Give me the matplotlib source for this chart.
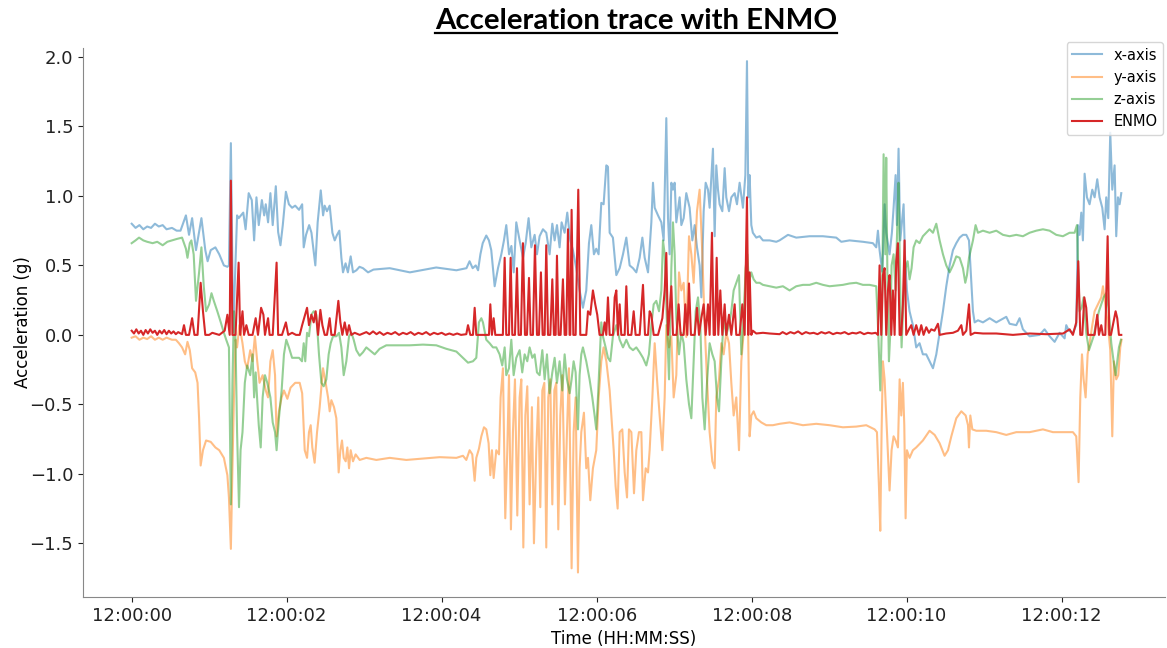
import matplotlib
matplotlib.use('Agg')
import matplotlib.pyplot as plt
import matplotlib.dates as mdates
import numpy as np

# (seconds after 12:00:00, acceleration in g)
x_axis = [
    (0.00, 0.80), (0.05, 0.77), (0.10, 0.79), (0.15, 0.76), (0.20, 0.78), (0.25, 0.77), (0.30, 0.80),
    (0.35, 0.78), (0.40, 0.79), (0.45, 0.76), (0.52, 0.77), (0.58, 0.75), (0.63, 0.75), (0.70, 0.86),
    (0.74, 0.72), (0.78, 0.84), (0.83, 0.61), (0.90, 0.84), (0.95, 0.61), (0.98, 0.53), (1.02, 0.61),
    (1.08, 0.63), (1.13, 0.58), (1.19, 0.50), (1.235, 0.49), (1.255, 0.50), (1.28, 1.38), (1.31, 0.02),
    (1.36, 0.86), (1.38, 0.84), (1.44, 0.88), (1.47, 0.76), (1.51, 1.02), (1.55, 0.97), (1.58, 0.68),
    (1.61, 0.99), (1.64, 0.79), (1.68, 0.97), (1.71, 0.86), (1.73, 0.94), (1.76, 0.81), (1.79, 1.02),
    (1.82, 0.79), (1.86, 1.07), (1.89, 0.74), (1.92, 0.645), (1.95, 0.79), (1.99, 1.03), (2.03, 0.94),
    (2.07, 0.915), (2.11, 0.93), (2.16, 0.90), (2.20, 0.94), (2.22, 0.63), (2.25, 0.72), (2.29, 0.79),
    (2.32, 0.735), (2.37, 0.50), (2.40, 0.81), (2.44, 1.04), (2.47, 0.86), (2.49, 0.93), (2.52, 0.89),
    (2.555, 0.93), (2.59, 0.735), (2.62, 0.68), (2.65, 0.72), (2.68, 0.75), (2.706, 0.555), (2.727, 0.45),
    (2.76, 0.515), (2.79, 0.45), (2.826, 0.565), (2.856, 0.45), (2.90, 0.465), (2.94, 0.49), (2.985, 0.48),
    (3.05, 0.45), (3.12, 0.47), (3.33, 0.48), (3.59, 0.45), (3.93, 0.485), (4.19, 0.465), (4.32, 0.48),
    (4.36, 0.53), (4.40, 0.48), (4.44, 0.50), (4.47, 0.465), (4.50, 0.58), (4.53, 0.66), (4.576, 0.715),
    (4.61, 0.68), (4.64, 0.61), (4.684, 0.35), (4.727, 0.48), (4.77, 0.58), (4.804, 0.68), (4.834, 0.79),
    (4.87, 0.58), (4.90, 0.64), (4.93, 0.45), (4.963, 0.81), (5.006, 0.68), (5.05, 0.555), (5.084, 0.66),
    (5.122, 0.84), (5.157, 0.63), (5.20, 0.72), (5.23, 0.58), (5.264, 0.71), (5.307, 0.76), (5.35, 0.735),
    (5.393, 0.58), (5.428, 0.80), (5.458, 0.68), (5.488, 0.79), (5.522, 0.63), (5.548, 0.81), (5.587, 0.735),
    (5.621, 0.88), (5.66, 0.68), (5.694, 0.61), (5.737, 0.48), (5.78, 0.32), (5.823, 0.195), (5.866, 0.32),
    (5.901, 0.66), (5.931, 0.79), (5.965, 0.58), (5.995, 0.62), (6.025, 0.58), (6.06, 0.95), (6.09, 0.94),
    (6.125, 1.22), (6.146, 1.21), (6.168, 0.735), (6.21, 0.70), (6.254, 0.43), (6.297, 0.48), (6.34, 0.58),
    (6.383, 0.70), (6.426, 0.50), (6.469, 0.48), (6.512, 0.45), (6.555, 0.555), (6.59, 0.70), (6.62, 0.555),
    (6.663, 0.45), (6.706, 0.81), (6.727, 1.095), (6.749, 0.915), (6.792, 0.86), (6.835, 0.81), (6.865, 0.68),
    (6.899, 1.56), (6.921, 0.84), (6.942, 0.58), (6.964, 1.095), (6.985, 1.045), (7.007, 1.095), (7.028, 0.81),
    (7.071, 0.99), (7.093, 0.79), (7.123, 0.84), (7.157, 1.02), (7.20, 0.915), (7.235, 0.68), (7.265, 0.79),
    (7.295, 0.63), (7.329, 0.50), (7.351, 0.27), (7.381, 0.89), (7.407, 1.095), (7.437, 1.045), (7.458, 0.915),
    (7.501, 1.34), (7.523, 0.71), (7.544, 1.22), (7.566, 1.045), (7.587, 0.94), (7.622, 0.89), (7.652, 1.20),
    (7.673, 0.99), (7.708, 0.89), (7.738, 0.99), (7.781, 1.02), (7.811, 0.94), (7.845, 1.095), (7.888, 0.915),
    (7.919, 1.15), (7.94, 1.97), (7.957, 0.99), (7.974, 1.15), (7.996, 0.79), (8.017, 0.735), (8.06, 0.70),
    (8.103, 0.71), (8.146, 0.68), (8.232, 0.68), (8.318, 0.67), (8.36, 0.68), (8.469, 0.72), (8.576, 0.70),
    (8.748, 0.71), (8.92, 0.71), (9.092, 0.70), (9.157, 0.67), (9.264, 0.68), (9.436, 0.67), (9.565, 0.66),
    (9.608, 0.63), (9.63, 0.75), (9.651, 0.61), (9.686, 0.455), (9.716, 0.94), (9.737, 0.735), (9.78, 0.58),
    (9.81, 0.735), (9.832, 0.915), (9.858, 1.15), (9.875, 0.79), (9.896, 1.34), (9.918, 0.68), (9.94, 0.81),
    (9.961, 0.94), (9.978, 0.58), (10.004, 0.32), (10.038, 0.17), (10.081, 0.07), (10.124, -0.09),
    (10.167, -0.06), (10.21, -0.14), (10.253, -0.14), (10.296, -0.19), (10.34, -0.24), (10.383, -0.14),
    (10.426, 0.015), (10.469, 0.17), (10.512, 0.35), (10.555, 0.50), (10.598, 0.61), (10.641, 0.66),
    (10.684, 0.70), (10.727, 0.72), (10.77, 0.72), (10.805, 0.68), (10.835, 0.375), (10.856, 0.17),
    (10.878, 0.09), (10.921, 0.105), (10.985, 0.09), (11.071, 0.12), (11.157, 0.09), (11.286, 0.13),
    (11.329, 0.08), (11.415, 0.07), (11.458, 0.12), (11.501, 0.04), (11.587, -0.01), (11.716, 0.0),
    (11.78, 0.04), (11.845, -0.01), (11.91, -0.05), (11.974, 0.015), (12.039, -0.025), (12.06, 0.07),
    (12.094, 0.03), (12.146, 0.015), (12.189, 0.07), (12.211, 0.79), (12.232, 0.72), (12.254, 0.88),
    (12.275, 0.68), (12.297, 1.16), (12.327, 0.99), (12.361, 0.94), (12.396, 1.045), (12.426, 0.99),
    (12.46, 1.12), (12.49, 0.99), (12.525, 0.915), (12.555, 0.76), (12.576, 0.99), (12.602, 0.84),
    (12.628, 1.455), (12.654, 1.045), (12.684, 1.22), (12.705, 0.71), (12.727, 0.99), (12.749, 0.94),
    (12.77, 1.02),
]

y_axis = [
    (0.00, -0.02), (0.05, -0.01), (0.10, -0.035), (0.15, -0.02), (0.20, -0.03), (0.25, -0.01), (0.30, -0.035),
    (0.35, -0.02), (0.40, -0.035), (0.45, -0.02), (0.52, -0.035), (0.57, -0.035), (0.61, -0.06), (0.65, -0.09),
    (0.69, -0.14), (0.72, -0.05), (0.75, -0.11), (0.78, -0.24), (0.82, -0.27), (0.85, -0.345), (0.87, -0.60),
    (0.89, -0.94), (0.92, -0.83), (0.96, -0.76), (1.02, -0.77), (1.08, -0.81), (1.13, -0.83), (1.19, -0.885),
    (1.235, -1.01), (1.255, -1.17), (1.28, -1.54), (1.30, -0.96), (1.32, -0.45), (1.34, -0.035), (1.36, -0.09),
    (1.39, 0.07), (1.43, -0.06), (1.46, -0.19), (1.49, -0.24), (1.53, -0.11), (1.56, -0.19), (1.59, -0.01),
    (1.62, -0.19), (1.65, -0.345), (1.69, -0.29), (1.73, -0.40), (1.76, -0.45), (1.79, -0.19), (1.82, -0.11),
    (1.85, -0.29), (1.87, -0.73), (1.90, -0.55), (1.935, -0.45), (1.965, -0.40), (2.01, -0.46), (2.05, -0.38),
    (2.11, -0.345), (2.168, -0.345), (2.20, -0.42), (2.233, -0.83), (2.263, -0.885), (2.288, -0.70),
    (2.31, -0.65), (2.331, -0.81), (2.361, -0.92), (2.392, -0.70), (2.426, -0.52), (2.469, -0.24),
    (2.503, -0.345), (2.534, -0.45), (2.555, -0.55), (2.577, -0.47), (2.611, -0.52), (2.641, -0.60),
    (2.671, -0.99), (2.693, -0.83), (2.714, -0.76), (2.736, -0.885), (2.762, -0.91), (2.783, -0.81),
    (2.805, -0.96), (2.826, -0.83), (2.856, -0.91), (2.89, -0.86), (2.942, -0.90), (3.028, -0.885),
    (3.157, -0.90), (3.33, -0.885), (3.544, -0.90), (3.76, -0.89), (3.975, -0.88), (4.19, -0.885),
    (4.275, -0.87), (4.318, -0.90), (4.361, -0.83), (4.395, -0.86), (4.426, -1.05), (4.447, -0.885),
    (4.481, -0.82), (4.512, -0.73), (4.546, -0.665), (4.576, -0.68), (4.606, -0.78), (4.628, -1.01),
    (4.649, -0.83), (4.671, -1.03), (4.705, -0.83), (4.74, -0.86), (4.761, -0.45), (4.791, -0.24),
    (4.821, -1.32), (4.847, -0.83), (4.869, -0.29), (4.894, -1.40), (4.92, -0.70), (4.946, -0.32),
    (4.976, -1.30), (5.006, -0.45), (5.028, -0.32), (5.054, -1.53), (5.08, -0.58), (5.105, -0.37),
    (5.135, -1.22), (5.165, -0.52), (5.191, -1.50), (5.221, -0.83), (5.247, -0.45), (5.273, -1.24),
    (5.299, -0.40), (5.325, -0.345), (5.35, -1.53), (5.376, -0.45), (5.402, -0.32), (5.428, -1.22),
    (5.454, -0.40), (5.479, -0.345), (5.505, -1.40), (5.531, -0.58), (5.557, -0.29), (5.591, -1.22),
    (5.617, -0.70), (5.643, -0.24), (5.677, -1.68), (5.703, -0.70), (5.729, -0.45), (5.759, -1.71),
    (5.78, -0.96), (5.802, -0.70), (5.836, -0.56), (5.866, -0.96), (5.888, -0.885), (5.918, -1.19),
    (5.952, -0.96), (5.995, -0.83), (6.026, -0.45), (6.06, -0.19), (6.09, -0.09), (6.125, -0.19),
    (6.168, -0.40), (6.19, -0.58), (6.22, -0.83), (6.245, -1.09), (6.271, -1.25), (6.297, -0.70),
    (6.331, -0.68), (6.362, -0.99), (6.392, -1.17), (6.417, -0.68), (6.448, -0.70), (6.482, -1.14),
    (6.512, -0.83), (6.546, -0.70), (6.577, -0.70), (6.598, -1.19), (6.633, -0.96), (6.663, -0.99),
    (6.684, -0.83), (6.719, -0.45), (6.749, -0.06), (6.779, -0.32), (6.813, -0.58), (6.848, -0.83),
    (6.878, -0.45), (6.899, 0.07), (6.934, -0.09), (6.964, -0.01), (6.994, -0.45), (7.028, -0.29),
    (7.063, 0.45), (7.093, 0.32), (7.123, 0.375), (7.157, -0.015), (7.192, 0.71), (7.222, 0.58),
    (7.252, 0.375), (7.295, 0.89), (7.329, 1.045), (7.364, 0.58), (7.394, 0.07), (7.424, -0.32),
    (7.458, -0.70), (7.493, -0.91), (7.523, -0.96), (7.544, -0.45), (7.579, -0.32), (7.609, -0.06),
    (7.639, -0.14), (7.673, 0.015), (7.708, -0.06), (7.738, -0.345), (7.768, -0.58), (7.802, -0.45),
    (7.837, -0.83), (7.867, -0.19), (7.897, 0.015), (7.923, 0.45), (7.94, 0.68), (7.957, -0.06),
    (7.974, -0.73), (7.996, -0.58), (8.026, -0.55), (8.06, -0.60), (8.125, -0.63), (8.189, -0.65),
    (8.275, -0.65), (8.361, -0.64), (8.49, -0.63), (8.662, -0.65), (8.834, -0.64), (9.006, -0.65),
    (9.178, -0.665), (9.35, -0.66), (9.479, -0.65), (9.587, -0.68), (9.617, -0.70), (9.643, -1.09),
    (9.66, -1.41), (9.677, -0.70), (9.694, -0.19), (9.716, -0.32), (9.746, -0.70), (9.78, -1.12),
    (9.806, -0.83), (9.832, -0.73), (9.858, -0.76), (9.888, -0.81), (9.91, -0.32), (9.931, -0.58),
    (9.952, -0.345), (9.97, -0.65), (9.987, -1.32), (10.004, -0.83), (10.038, -0.885), (10.081, -0.83),
    (10.124, -0.81), (10.21, -0.76), (10.296, -0.69), (10.362, -0.72), (10.426, -0.78), (10.49, -0.87),
    (10.534, -0.83), (10.577, -0.73), (10.641, -0.60), (10.706, -0.55), (10.762, -0.58), (10.792, -0.65),
    (10.805, -0.81), (10.822, -0.58), (10.848, -0.68), (10.899, -0.69), (11.028, -0.69), (11.157, -0.70),
    (11.286, -0.72), (11.415, -0.70), (11.587, -0.70), (11.759, -0.68), (11.888, -0.70), (12.017, -0.70),
    (12.146, -0.70), (12.189, -0.73), (12.219, -1.06), (12.241, -0.45), (12.263, -0.14), (12.284, -0.32),
    (12.31, -0.45), (12.336, -0.14), (12.361, -0.06), (12.396, 0.07), (12.426, 0.17), (12.469, 0.22),
    (12.512, 0.27), (12.534, 0.35), (12.564, 0.22), (12.598, 0.07), (12.628, -0.11), (12.654, -0.73),
    (12.675, -0.19), (12.705, -0.32), (12.731, -0.29), (12.757, -0.09), (12.774, -0.035),
]

z_axis = [
    (0.00, 0.66), (0.05, 0.68), (0.095, 0.70), (0.15, 0.68), (0.20, 0.67), (0.27, 0.66), (0.33, 0.67),
    (0.40, 0.645), (0.46, 0.67), (0.52, 0.68), (0.58, 0.69), (0.65, 0.70), (0.70, 0.62), (0.72, 0.555),
    (0.75, 0.66), (0.77, 0.68), (0.80, 0.58), (0.83, 0.245), (0.87, 0.45), (0.90, 0.63), (0.93, 0.35),
    (0.96, 0.17), (1.00, 0.22), (1.03, 0.30), (1.06, 0.245), (1.105, 0.17), (1.15, 0.09), (1.19, 0.015),
    (1.22, -0.035), (1.255, -0.09), (1.28, -1.22), (1.30, -0.345), (1.32, 0.17), (1.34, -0.035),
    (1.36, -0.70), (1.385, -1.24), (1.405, -0.83), (1.43, -0.70), (1.46, -0.345), (1.49, -0.22),
    (1.53, -0.29), (1.56, -0.14), (1.58, -0.45), (1.60, -0.27), (1.62, -0.47), (1.64, -0.65), (1.665, -0.81),
    (1.69, -0.45), (1.72, -0.29), (1.75, -0.345), (1.79, -0.45), (1.82, -0.63), (1.85, -0.70), (1.87, -0.83),
    (1.90, -0.60), (1.935, -0.40), (1.965, -0.14), (1.995, -0.035), (2.03, -0.09), (2.07, -0.165),
    (2.16, -0.165), (2.198, -0.19), (2.22, -0.06), (2.24, -0.19), (2.263, 0.015), (2.288, -0.01),
    (2.319, 0.145), (2.349, 0.17), (2.383, 0.145), (2.417, -0.14), (2.448, -0.345), (2.478, -0.37),
    (2.512, -0.32), (2.542, -0.14), (2.568, -0.06), (2.598, -0.01), (2.641, -0.01), (2.676, 0.015),
    (2.706, -0.09), (2.736, -0.29), (2.77, -0.19), (2.805, -0.01), (2.835, 0.015), (2.865, -0.035),
    (2.899, -0.11), (2.942, -0.15), (2.985, -0.125), (3.028, -0.09), (3.071, -0.11), (3.136, -0.14),
    (3.20, -0.10), (3.286, -0.075), (3.415, -0.075), (3.587, -0.075), (3.759, -0.07), (3.931, -0.075),
    (4.06, -0.10), (4.19, -0.12), (4.275, -0.165), (4.34, -0.20), (4.404, -0.19), (4.447, -0.165),
    (4.481, 0.09), (4.512, 0.12), (4.533, 0.09), (4.576, -0.035), (4.619, -0.06), (4.662, -0.09),
    (4.705, -0.09), (4.748, -0.14), (4.782, -0.22), (4.813, -0.09), (4.834, -0.29), (4.869, -0.24),
    (4.899, -0.035), (4.929, -0.29), (4.963, -0.165), (5.006, -0.11), (5.04, -0.27), (5.071, -0.14),
    (5.105, -0.19), (5.135, -0.09), (5.17, -0.165), (5.20, -0.14), (5.23, -0.27), (5.264, -0.29),
    (5.299, -0.11), (5.329, -0.32), (5.359, -0.14), (5.393, -0.42), (5.428, -0.27), (5.458, -0.165),
    (5.488, -0.345), (5.522, -0.19), (5.557, -0.40), (5.587, -0.14), (5.617, -0.32), (5.652, -0.42),
    (5.677, -0.32), (5.703, -0.19), (5.729, -0.27), (5.759, -0.68), (5.78, -0.29), (5.802, -0.14),
    (5.823, -0.09), (5.866, -0.19), (5.909, -0.32), (5.944, -0.45), (5.974, -0.58), (5.995, -0.68),
    (6.017, -0.45), (6.038, -0.19), (6.06, 0.09), (6.081, -0.01), (6.116, -0.09), (6.146, -0.165),
    (6.176, -0.19), (6.21, -0.01), (6.254, 0.07), (6.297, -0.035), (6.34, -0.09), (6.383, -0.035),
    (6.426, -0.09), (6.469, -0.11), (6.512, -0.09), (6.555, -0.125), (6.598, -0.165), (6.641, -0.22),
    (6.675, -0.14), (6.706, 0.07), (6.736, 0.22), (6.77, 0.245), (6.805, 0.17), (6.835, 0.32), (6.856, 0.68),
    (6.878, 0.58), (6.908, 0.07), (6.934, -0.32), (6.964, 0.48), (6.985, 0.81), (7.007, 0.58), (7.028, 0.12),
    (7.063, -0.14), (7.093, 0.015), (7.123, -0.06), (7.157, -0.32), (7.192, -0.50), (7.222, -0.60),
    (7.252, -0.19), (7.278, 0.17), (7.308, 0.27), (7.338, 0.07), (7.364, -0.45), (7.394, -0.68),
    (7.424, -0.345), (7.458, -0.06), (7.493, -0.14), (7.523, -0.19), (7.553, -0.45), (7.579, -0.55),
    (7.609, -0.19), (7.639, 0.12), (7.673, 0.0), (7.708, 0.07), (7.738, 0.17), (7.768, 0.32), (7.802, 0.375),
    (7.837, 0.43), (7.867, -0.14), (7.897, 0.12), (7.923, 0.48), (7.944, 0.58), (7.966, 0.375), (7.996, 0.45),
    (8.026, 0.40), (8.06, 0.375), (8.103, 0.375), (8.146, 0.36), (8.232, 0.35), (8.318, 0.34), (8.404, 0.35),
    (8.49, 0.32), (8.576, 0.35), (8.662, 0.36), (8.748, 0.36), (8.834, 0.375), (8.92, 0.36), (9.006, 0.35),
    (9.092, 0.355), (9.178, 0.36), (9.264, 0.37), (9.35, 0.375), (9.436, 0.36), (9.522, 0.36), (9.608, 0.35),
    (9.634, 0.015), (9.66, -0.40), (9.681, 0.07), (9.703, 1.30), (9.725, 0.58), (9.737, 1.275), (9.754, 0.32),
    (9.772, -0.19), (9.789, 0.015), (9.806, 0.50), (9.832, 0.58), (9.858, 0.32), (9.879, 0.78), (9.896, 1.095),
    (9.918, 0.32), (9.935, -0.09), (9.961, 0.27), (9.987, 0.48), (10.013, 0.53), (10.038, 0.40), (10.064, 0.48),
    (10.09, 0.63), (10.124, 0.68), (10.167, 0.66), (10.21, 0.71), (10.253, 0.735), (10.296, 0.76),
    (10.34, 0.735), (10.383, 0.80), (10.426, 0.68), (10.469, 0.58), (10.512, 0.50), (10.555, 0.45),
    (10.598, 0.50), (10.641, 0.565), (10.684, 0.555), (10.727, 0.48), (10.757, 0.375), (10.779, 0.43),
    (10.805, 0.555), (10.835, 0.63), (10.856, 0.68), (10.89, 0.79), (10.921, 0.735), (10.985, 0.75),
    (11.071, 0.735), (11.157, 0.75), (11.243, 0.72), (11.329, 0.71), (11.415, 0.72), (11.501, 0.71),
    (11.587, 0.735), (11.673, 0.75), (11.759, 0.76), (11.845, 0.75), (11.931, 0.72), (12.017, 0.71),
    (12.103, 0.735), (12.168, 0.735), (12.198, 0.79), (12.211, 0.53), (12.232, 0.17), (12.258, 0.195),
    (12.284, 0.27), (12.318, 0.015), (12.353, -0.11), (12.383, -0.06), (12.413, -0.01), (12.447, 0.09),
    (12.482, 0.17), (12.512, 0.22), (12.542, 0.27), (12.576, 0.30), (12.606, 0.195), (12.641, -0.06),
    (12.671, -0.19), (12.697, -0.29), (12.718, -0.19), (12.74, -0.09), (12.766, -0.035),
]

enmo = [
    (0.00, 0.03), (0.03, 0.01), (0.06, 0.04), (0.09, 0.01), (0.12, 0.03), (0.15, 0.0), (0.18, 0.035),
    (0.21, 0.01), (0.24, 0.04), (0.27, 0.015), (0.30, 0.03), (0.33, 0.0), (0.36, 0.03), (0.39, 0.01),
    (0.42, 0.035), (0.45, 0.005), (0.48, 0.03), (0.51, 0.01), (0.54, 0.025), (0.57, 0.005), (0.60, 0.02),
    (0.65, 0.005), (0.675, 0.07), (0.70, 0.0), (0.74, 0.0), (0.78, 0.12), (0.81, 0.0), (0.85, 0.0),
    (0.89, 0.375), (0.92, 0.17), (0.95, 0.0), (1.00, 0.0), (1.04, 0.015), (1.13, 0.0), (1.20, 0.03),
    (1.235, 0.145), (1.265, 0.0), (1.28, 1.11), (1.30, 0.0), (1.34, 0.0), (1.38, 0.52), (1.40, 0.0),
    (1.43, 0.17), (1.45, 0.0), (1.48, 0.07), (1.51, 0.0), (1.56, 0.0), (1.60, 0.12), (1.63, 0.0),
    (1.67, 0.195), (1.70, 0.145), (1.72, 0.0), (1.76, 0.12), (1.78, 0.0), (1.82, 0.0), (1.87, 0.52),
    (1.89, 0.0), (1.94, 0.0), (1.99, 0.09), (2.02, 0.0), (2.07, 0.015), (2.12, 0.0), (2.168, 0.0),
    (2.20, 0.07), (2.263, 0.195), (2.288, 0.07), (2.319, 0.145), (2.349, 0.09), (2.374, 0.17), (2.405, 0.0),
    (2.435, 0.18), (2.461, 0.07), (2.491, 0.0), (2.52, 0.0), (2.555, 0.12), (2.577, 0.0), (2.62, 0.0),
    (2.667, 0.245), (2.693, 0.09), (2.719, 0.0), (2.749, 0.09), (2.779, 0.0), (2.805, 0.07), (2.835, 0.0),
    (2.878, 0.015), (2.942, 0.0), (3.028, 0.02), (3.07, 0.005), (3.115, 0.025), (3.16, 0.005), (3.2, 0.02),
    (3.25, 0.0), (3.3, 0.015), (3.35, 0.005), (3.4, 0.02), (3.45, 0.0), (3.5, 0.015), (3.55, 0.005),
    (3.6, 0.02), (3.65, 0.0), (3.7, 0.015), (3.75, 0.005), (3.8, 0.02), (3.85, 0.0), (3.9, 0.015),
    (3.95, 0.005), (4.0, 0.015), (4.05, 0.0), (4.1, 0.01), (4.15, 0.0), (4.2, 0.01), (4.25, 0.0),
    (4.318, 0.005), (4.34, 0.07), (4.37, 0.0), (4.404, 0.0), (4.426, 0.195), (4.447, 0.0), (4.49, 0.0),
    (4.576, 0.0), (4.611, 0.0), (4.628, 0.22), (4.649, 0.0), (4.671, 0.12), (4.692, 0.0), (4.79, 0.0),
    (4.813, 0.555), (4.834, 0.0), (4.869, 0.0), (4.89, 0.555), (4.912, 0.0), (4.946, 0.0), (4.972, 0.48),
    (4.993, 0.0), (5.023, 0.0), (5.049, 0.66), (5.075, 0.0), (5.101, 0.0), (5.127, 0.41), (5.148, 0.0),
    (5.178, 0.0), (5.204, 0.645), (5.23, 0.0), (5.256, 0.0), (5.281, 0.45), (5.303, 0.0), (5.329, 0.0),
    (5.35, 0.645), (5.372, 0.0), (5.402, 0.0), (5.428, 0.40), (5.449, 0.0), (5.471, 0.0), (5.488, 0.57),
    (5.509, 0.0), (5.535, 0.0), (5.565, 0.40), (5.587, 0.0), (5.608, 0.0), (5.63, 0.76), (5.651, 0.0),
    (5.66, 0.0), (5.677, 0.90), (5.699, 0.0), (5.729, 0.0), (5.763, 1.045), (5.789, 0.0), (5.832, 0.0),
    (5.866, 0.0), (5.888, 0.17), (5.918, 0.145), (5.952, 0.32), (5.982, 0.22), (6.008, 0.145), (6.038, 0.0),
    (6.081, 0.0), (6.103, 0.09), (6.125, 0.0), (6.146, 0.27), (6.168, 0.0), (6.211, 0.0), (6.233, 0.27),
    (6.254, 0.32), (6.275, 0.0), (6.297, 0.22), (6.318, 0.0), (6.362, 0.0), (6.383, 0.35), (6.405, 0.0),
    (6.448, 0.0), (6.478, 0.17), (6.503, 0.0), (6.555, 0.0), (6.598, 0.36), (6.624, 0.0), (6.663, 0.0),
    (6.684, 0.17), (6.706, 0.145), (6.736, 0.0), (6.792, 0.0), (6.848, 0.12), (6.878, 0.32), (6.899, 0.59),
    (6.921, 0.0), (6.964, 0.35), (6.985, 0.0), (7.03, 0.0), (7.058, 0.22), (7.084, 0.0), (7.123, 0.0),
    (7.144, 0.22), (7.17, 0.0), (7.192, 0.37), (7.217, 0.0), (7.265, 0.0), (7.295, 0.195), (7.321, 0.0),
    (7.351, 0.12), (7.381, 0.22), (7.407, 0.0), (7.437, 0.22), (7.458, 0.0), (7.488, 0.735), (7.51, 0.0),
    (7.527, 0.0), (7.549, 0.555), (7.57, 0.0), (7.596, 0.32), (7.622, 0.0), (7.652, 0.22), (7.673, 0.0),
    (7.708, 0.145), (7.738, 0.0), (7.781, 0.22), (7.802, 0.0), (7.845, 0.0), (7.88, 0.22), (7.91, 0.0),
    (7.923, 0.45), (7.94, 0.99), (7.957, 0.0), (7.974, 0.45), (7.996, 0.0), (8.017, 0.03), (8.06, 0.01),
    (8.146, 0.015), (8.232, 0.01), (8.361, 0.005), (8.40, 0.02), (8.45, 0.005), (8.50, 0.02), (8.55, 0.01),
    (8.60, 0.025), (8.65, 0.005), (8.70, 0.02), (8.75, 0.01), (8.80, 0.015), (8.85, 0.005), (8.90, 0.02),
    (8.95, 0.01), (9.00, 0.02), (9.05, 0.005), (9.10, 0.015), (9.15, 0.01), (9.20, 0.02), (9.25, 0.005),
    (9.30, 0.015), (9.35, 0.01), (9.40, 0.02), (9.45, 0.005), (9.50, 0.015), (9.55, 0.01), (9.60, 0.015),
    (9.63, 0.0), (9.651, 0.50), (9.673, 0.0), (9.694, 0.43), (9.716, 0.48), (9.737, 0.0), (9.759, 0.32),
    (9.78, 0.43), (9.802, 0.0), (9.823, 0.32), (9.845, 0.0), (9.866, 0.53), (9.888, 0.66), (9.91, 0.0),
    (9.931, 0.0), (9.952, 0.22), (9.974, 0.68), (9.995, 0.0), (10.03, 0.04), (10.06, 0.07), (10.09, 0.0),
    (10.124, 0.07), (10.159, 0.0), (10.189, 0.07), (10.219, 0.0), (10.254, 0.055), (10.288, 0.015),
    (10.318, 0.04), (10.36, 0.03), (10.404, 0.08), (10.426, 0.0), (10.51, 0.01), (10.598, 0.015),
    (10.662, 0.03), (10.706, 0.07), (10.727, 0.0), (10.77, 0.03), (10.805, 0.22), (10.826, 0.0),
    (10.878, 0.015), (10.985, 0.01), (11.157, 0.01), (11.372, 0.0), (11.587, 0.01), (11.80, 0.005),
    (12.02, 0.01), (12.103, 0.04), (12.146, 0.0), (12.189, 0.09), (12.215, 0.53), (12.241, 0.0),
    (12.267, 0.0), (12.293, 0.27), (12.318, 0.195), (12.34, 0.0), (12.383, 0.0), (12.426, 0.0),
    (12.46, 0.145), (12.482, 0.0), (12.512, 0.07), (12.533, 0.0), (12.564, 0.0), (12.594, 0.71),
    (12.615, 0.0), (12.637, 0.0), (12.697, 0.17), (12.718, 0.12), (12.74, 0.0), (12.77, 0.0),
]

start = np.datetime64('2000-01-01T12:00:00.000')


def to_time(sec):
    return start + (np.asarray(sec) * 1000).astype('timedelta64[ms]')


fig = plt.figure(figsize=(11.67, 6.48), dpi=100)
ax = fig.add_axes([0.071, 0.079, 0.927, 0.847])

series = [
    (x_axis, 'x-axis', '#1f77b4', 0.5),
    (y_axis, 'y-axis', '#ff7f0e', 0.5),
    (z_axis, 'z-axis', '#2ca02c', 0.5),
    (enmo, 'ENMO', '#d62728', 1.0),
]
for pts, label, color, alpha in series:
    arr = np.array(pts)
    ax.plot(to_time(arr[:, 0]), arr[:, 1], color=color, alpha=alpha, lw=1.5, label=label)

ax.set_xlim(to_time(-0.63), to_time(13.33))
ax.set_ylim(-1.885, 2.065)
ax.set_yticks([-1.5, -1.0, -0.5, 0.0, 0.5, 1.0, 1.5, 2.0])
ax.xaxis.set_major_locator(mdates.SecondLocator(bysecond=range(0, 60, 2)))
ax.xaxis.set_major_formatter(mdates.DateFormatter('%H:%M:%S'))
ax.tick_params(labelsize=13, colors='#222222')

for side in ['top', 'right']:
    ax.spines[side].set_visible(False)
for side in ['left', 'bottom']:
    ax.spines[side].set_color('#888888')

ax.set_xlabel('Time (HH:MM:SS)', fontsize=12)
ax.set_ylabel('Acceleration (g)', fontsize=12, labelpad=-2)
leg = ax.legend(loc='upper right', fontsize=10.5, borderaxespad=0.1, framealpha=0.8,
                bbox_to_anchor=(1.0, 1.014))

title = fig.text(0.545, 0.955, 'Acceleration trace with ENMO', ha='center', va='baseline',
                 fontsize=18, fontweight='bold', family=['Lato', 'DejaVu Sans'])

# fit the title to the width of the reference, then underline it
fig.canvas.draw()
w = title.get_window_extent().width
title.set_fontsize(18 * 403 / w)
fig.canvas.draw()
bb = title.get_window_extent().transformed(fig.transFigure.inverted())
fig.add_artist(plt.Line2D([bb.x0, bb.x1], [0.949, 0.949], color='black', lw=1.6,
                          transform=fig.transFigure))

fig.savefig('out.png', dpi=100)
